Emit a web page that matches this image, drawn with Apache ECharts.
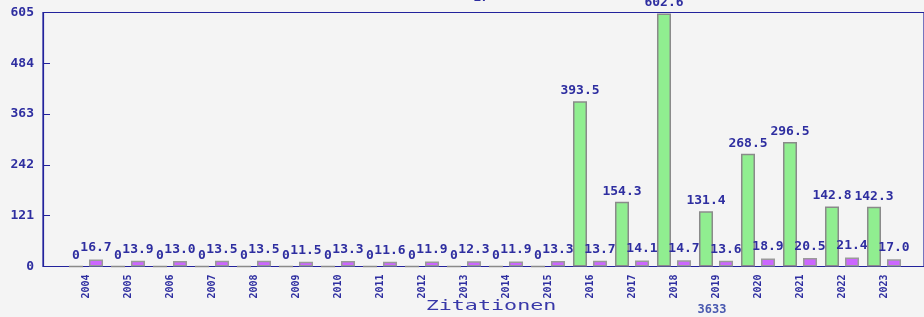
<!DOCTYPE html>
<html>
<head>
<meta charset="utf-8">
<script src="https://cdn.jsdelivr.net/npm/echarts@6/dist/echarts.min.js"></script>
<style>
html,body{margin:0;padding:0;background:#f4f4f4;}
#c{width:924px;height:317px;}
</style>
</head>
<body>
<div id="c"></div>
<script>
var years = ['2004','2005','2006','2007','2008','2009','2010','2011','2012','2013','2014','2015','2016','2017','2018','2019','2020','2021','2022','2023'];
var citations = [0,0,0,0,0,0,0,0,0,0,0,0,393.5,154.3,602.6,131.4,268.5,296.5,142.8,142.3];
var averages = [16.7,13.9,13.0,13.5,13.5,11.5,13.3,11.6,11.9,12.3,11.9,13.3,13.7,14.1,14.7,13.6,18.9,20.5,21.4,17.0];
var yMax = 605;
var yStep = 121;
var axisTitle = 'Zitationen';
var topText = '17';
var bottomText = '3633';

var NAVY = '#22229c';
var TXT = '#2e2ea0';
var MONO = '"DejaVu Sans Mono", "Liberation Mono", monospace';

var chart = echarts.init(document.getElementById('c'), null, {renderer:'canvas'});
var gridTop = 12.5, gridBottom = 50.5;
chart.setOption({
  backgroundColor: '#f4f4f4',
  animation: false,
  grid: [
    {left: 43, right: 0, top: gridTop, bottom: gridBottom, show: true, borderColor: NAVY, borderWidth: 1.2, backgroundColor: 'transparent'},
    {left: 65, right: 19, top: gridTop, bottom: gridBottom}
  ],
  xAxis: [
    {type: 'value', gridIndex: 0, show: false, min: 0, max: 1},
    {type: 'category', gridIndex: 1, data: years,
     axisLine: {show: false}, axisTick: {show: false},
     axisLabel: {rotate: 90, margin: 8, color: TXT, fontFamily: MONO, fontWeight: 'bold', fontSize: 10}}
  ],
  yAxis: [
    {type: 'value', gridIndex: 0, min: 0, max: yMax, interval: yStep,
     axisLine: {show: true, lineStyle: {color: NAVY, width: 1.2}},
     axisTick: {show: true, inside: true, length: 7, lineStyle: {color: NAVY}},
     splitLine: {show: false},
     axisLabel: {margin: 9, color: TXT, fontFamily: MONO, fontWeight: 'bold', fontSize: 13}},
    {type: 'value', gridIndex: 1, min: 0, max: yMax, show: false, splitLine: {show: false}}
  ],
  series: [
    {type: 'bar', xAxisIndex: 1, yAxisIndex: 1, data: citations, barWidth: 14, barGap: '43%',
     itemStyle: {color: '#90ee90', borderColor: '#8a8a8a', borderWidth: 1.5},
     label: {show: true, position: 'top', distance: 4, color: TXT, fontFamily: MONO, fontWeight: 'bold', fontSize: 13,
       formatter: function(p){ return p.value === 0 ? '0' : p.value.toFixed(1); }}},
    {type: 'bar', xAxisIndex: 1, yAxisIndex: 1, data: averages, barWidth: 14, barGap: '43%',
     itemStyle: {color: '#cc66ff', borderColor: '#9a9a9a', borderWidth: 1.5},
     label: {show: true, position: 'top', distance: 5, color: TXT, fontFamily: MONO, fontWeight: 'bold', fontSize: 13,
       formatter: function(p){ return p.value.toFixed(1); }}}
  ],
  graphic: [
    {type: 'text', x: 491, y: 306, scaleX: 1.55, scaleY: 1,
     style: {text: axisTitle, x: 0, y: 0, align: 'center', verticalAlign: 'middle', fill: '#3838a8', font: '14px ' + MONO}},
    {type: 'text', x: 481, y: 4,
     style: {text: topText, x: 0, y: 0, align: 'center', verticalAlign: 'bottom', fill: TXT, font: 'bold 13px ' + MONO}},
    {type: 'text', x: 712, y: 310,
     style: {text: bottomText, x: 0, y: 0, align: 'center', verticalAlign: 'middle', fill: '#4a5ab0', font: 'bold 12px ' + MONO}}
  ]
});
</script>
</body>
</html>
